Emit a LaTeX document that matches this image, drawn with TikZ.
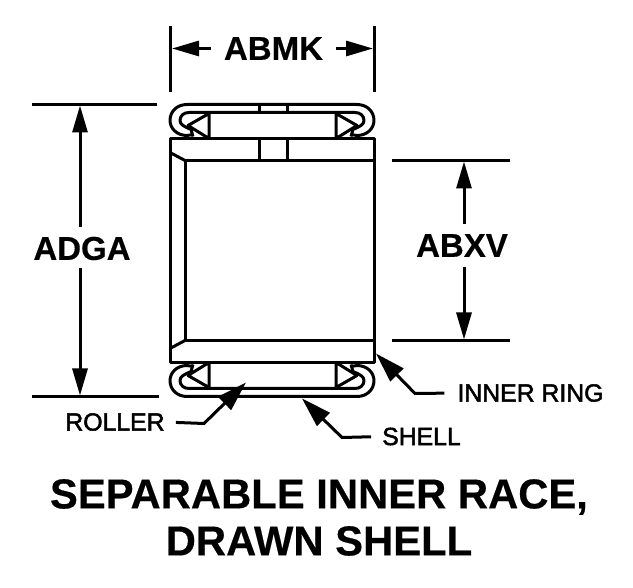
\documentclass[tikz,border=0pt]{standalone}
\usepackage{fontspec}
\setmainfont{Liberation Sans}
\newfontfamily\calloutfont[FakeBold=2]{Liberation Sans}
\newfontfamily\headfont[BoldFont={Liberation Sans Bold},BoldFeatures={FakeBold=0.4}]{Liberation Sans}
\usetikzlibrary{arrows.meta, positioning}

\tikzset{
  part/.style={line width=3pt, line join=round},
  extline/.style={line width=3pt},
  dimline/.style={line width=3pt, shorten <=10pt, -{Triangle[length=27pt,width=15pt]}},
  leader/.style={line width=3pt, shorten <=11pt, -{Triangle[length=30pt,width=18pt]}},
  dimlabel/.style={inner sep=0pt, font=\headfont\fontsize{33}{33}\selectfont\bfseries},
  leaderlabel/.style={inner sep=0pt, font=\calloutfont\fontsize{24.8}{25}\selectfont},
}

\begin{document}
\begin{tikzpicture}[x=1pt, y=-1pt]
  \useasboundingbox (0,-0.5) rectangle (633,587.5);

  % inner ring
  \draw[part] (170,138) rectangle (374,362);
  \draw[part] (185,160) -- (374,160);
  \draw[part] (185,340) -- (374,340);
  \draw[part] (185,160) -- (185,340);
  \draw[part] (170,152) -- (185,160);
  \draw[part] (170,348) -- (185,340);
  \draw[part] (259,138) -- (259,160);
  \draw[part] (287,138) -- (287,160);

  % shell, top
  \draw[part] (193,136) -- (191,129) .. controls (184,126) and (180,124) .. (180,120)
    .. controls (180,115) and (184,112) .. (189,112) -- (355,112)
    .. controls (360,112) and (364,115) .. (364,120)
    .. controls (364,124) and (360,126) .. (353,129) -- (351,136);
  \draw[part] (193,134) -- (187,135) .. controls (177,135) and (170,128) .. (170,120)
    .. controls (170,111) and (177,104) .. (187,104) -- (357,104)
    .. controls (367,104) and (374,111) .. (374,120)
    .. controls (374,128) and (367,135) .. (357,135) -- (351,134);
  \draw[part] (259,104) -- (259,112);
  \draw[part] (287,104) -- (287,112);

  % shell, bottom
  \draw[part] (193,364) -- (191,371) .. controls (184,374) and (180,376) .. (180,380)
    .. controls (180,385) and (184,388) .. (189,388) -- (355,388)
    .. controls (360,388) and (364,385) .. (364,380)
    .. controls (364,376) and (360,374) .. (353,371) -- (351,364);
  \draw[part] (193,366) -- (187,365) .. controls (177,365) and (170,372) .. (170,380)
    .. controls (170,389) and (177,396) .. (187,396) -- (357,396)
    .. controls (367,396) and (374,389) .. (374,380)
    .. controls (374,372) and (367,365) .. (357,365) -- (351,366);

  % rollers
  \draw[part] (209,112) -- (209,138) -- (188,125) -- (209,113);
  \draw[part] (336,112) -- (336,138) -- (357,125) -- (336,113);
  \draw[part] (209,388) -- (209,362) -- (188,375) -- (209,387);
  \draw[part] (336,388) -- (336,362) -- (357,375) -- (336,387);

  % dimensions
  \node[dimlabel] (abmk) at (273.5,48) {ABMK};
  \coordinate (abmkL) at (172,48);
  \coordinate (abmkR) at (373,48);
  \draw[extline] (170,26) -- (170,92);
  \draw[extline] (374,26) -- (374,92);
  \draw[dimline, shorten <=13pt] (abmk) -- (abmkL);
  \draw[dimline, shorten <=13pt] (abmk) -- (abmkR);

  \node[dimlabel] (adga) at (82,248) {ADGA};
  \coordinate (adgaT) at (80,105);
  \coordinate (adgaB) at (80,395);
  \draw[extline] (32,104) -- (157,104);
  \draw[extline] (32,396) -- (159,396);
  \draw[dimline] (adga.north -| adgaT) -- (adgaT);
  \draw[dimline, shorten <=8pt] (adga.south -| adgaB) -- (adgaB);

  \node[dimlabel] (abxv) at (462,245) {ABXV};
  \coordinate (abxvT) at (464,161);
  \coordinate (abxvB) at (464,339);
  \draw[extline] (392,160) -- (510,160);
  \draw[extline] (392,340) -- (510,340);
  \draw[dimline] (abxv.north -| abxvT) -- (abxvT);
  \draw[dimline] (abxv.south -| abxvB) -- (abxvB);

  % callouts
  \node[leaderlabel] (roller) at (115,421.5) {ROLLER};
  \coordinate (rollerE) at (204,423);
  \coordinate (rollerT) at (246,382);
  \draw[leader] (roller.east) -- (rollerE) -- (rollerT);

  \node[leaderlabel] (ring) at (530.5,392.5) {INNER RING};
  \coordinate (ringE) at (415,393);
  \coordinate (ringT) at (376,353);
  \draw[leader, shorten <=13pt] (ring.west) -- (ringE) -- (ringT);

  \node[leaderlabel] (shell) at (421.5,436) {SHELL};
  \coordinate (shellE) at (342,437);
  \coordinate (shellT) at (302,398);
  \draw[leader] (shell.west) -- (shellE) -- (shellT);

  \node[align=center, inner sep=0pt, font=\headfont\fontsize{41.8}{47}\selectfont\bfseries] (title) at (319,517)
    {SEPARABLE INNER RACE,\\DRAWN SHELL};
\end{tikzpicture}
\end{document}
